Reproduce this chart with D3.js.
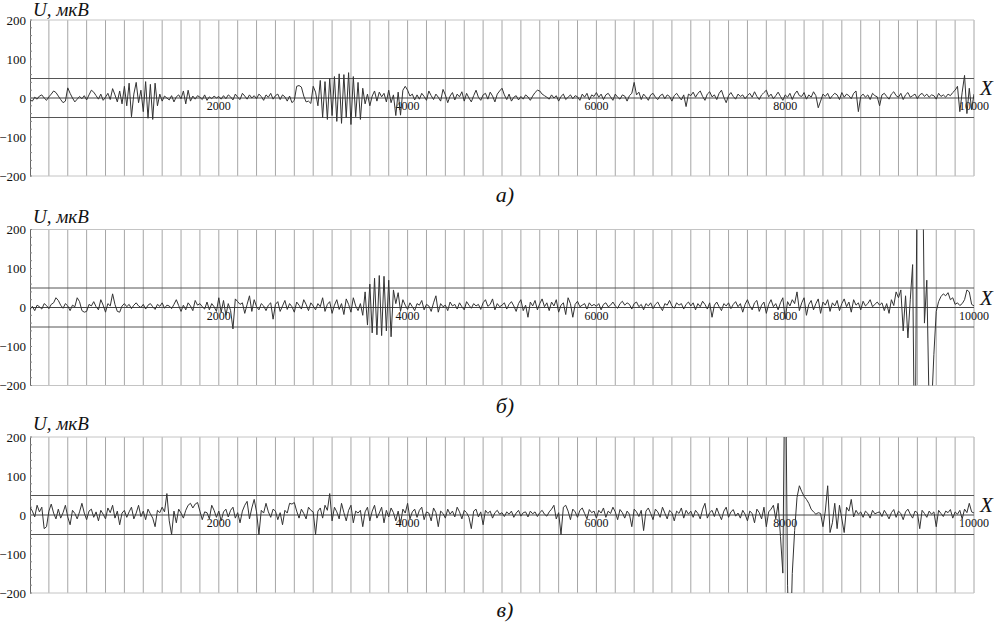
<!DOCTYPE html>
<html>
<head>
<meta charset="utf-8">
<script src="https://cdn.jsdelivr.net/npm/d3@7"></script>
<style>
  body { margin: 0; background: #fff; }
  svg { display: block; }
  text { font-family: "Liberation Serif", "DejaVu Serif", serif; fill: #111; }
</style>
</head>
<body>
<svg id="chart" width="997" height="626"></svg>
<script>
// samples are 25 units apart, 0..10000
const step = 25
const xTicks = [2000, 4000, 6000, 8000, 10000]
const yTicks = [200, 100, 0, -100, -200]
const levels = [50, -50]
const panelLabels = ['а)', 'б)', 'в)']

const signalA = [
  -5, -8, 2, -3, 5, 8, 0, -6, 3, 10, 18, 14, 5, -4, -12, -8, 26, 12, 0, -10,
  -3, 4, -2, 6, -5, 8, 20, 15, 6, -3, 10, -6, 2, 12, -4, 24, 8, -10, 18, -15,
  30, -20, 38, -48, 10, 40, -12, 20, -35, 42, -52, 35, -55, 38, -20, 10, -8, 5, 0, -5,
  6, -10, 3, 8, -2, 18, -15, 20, -8, 5, -3, 6, 2, -4, 8, -6, 3, -2, 5, 0,
  4, -3, 6, -2, 8, 3, -5, 10, 2, -4, 12, 5, -3, 8, 0, 6, -2, 10, 4, -6,
  8, 2, 12, -3, 6, 10, -4, 8, 3, -8, 5, -12, -6, 30, 32, 28, 5, -10, -8, -14,
  30, 15, -20, 45, -50, 42, -55, 50, -45, 55, -60, 62, -65, 60, -50, 65, -68, 55, -48, 40,
  -55, 25, -15, 10, -20, 5, 18, -8, 15, 3, 12, -10, 20, -12, 8, -45, 15, -44, 20, 30,
  20, 5, 10, -5, 8, -3, 12, 4, -6, 18, 6, -4, 10, 2, -8, 22, 8, -12, 5, 14,
  -5, 10, 3, 16, -8, 12, 0, -10, 6, 20, 2, -6, 8, 12, -3, 15, 5, -10, 10, 18,
  25, 8, -4, 10, -8, 2, 6, -5, 4, -3, 8, 3, -6, 5, 14, 20, 18, 10, 6, 2,
  -3, 8, 0, 6, -8, 4, 10, -4, 2, 8, -2, 6, 3, -6, 10, 2, 12, -5, 8, 4,
  14, 2, 10, -4, 8, 12, 3, -6, 10, 2, -3, 8, 5, -8, 6, 12, 40, 8, 15, -4,
  10, 3, -6, 8, 12, 2, -4, 6, 10, -2, 8, 4, -8, 6, 12, 3, -5, 8, -22, 10,
  6, 15, 2, 12, 18, 4, -6, 10, 16, 3, 8, -4, 12, 20, 2, -12, 6, 14, 4, -3,
  10, 4, 8, -2, 6, 12, 2, 16, 4, -4, 8, 14, 20, 3, 10, -2, 6, 15, 4, -6,
  8, 2, 12, -4, 10, 18, 6, 4, 14, -3, 8, 2, 16, 6, -25, -8, 10, 4, 12, -2,
  6, 12, 8, -4, 14, 2, 10, 6, -2, 12, 18, -35, 4, 10, 2, 8, -4, 12, 6, 3,
  -20, 8, 12, 4, -3, 10, 16, 6, 2, 12, -4, 8, 14, 2, 6, 10, -2, 8, 12, 4,
  10, 2, 8, 6, -3, 12, 4, 8, 2, 10, 6, 14, 20, 30, -35, 15, 58, -40, 25, -30,
  10
]

const signalB = [
  -5, 3, -8, 6, 2, -4, 10, 5, -3, 8, 12, 25, 18, 6, -2, 10, 4, -8, 6, 2,
  25, 15, -8, -12, -10, 8, 4, 15, 2, -6, 20, 6, -12, 10, 4, 35, 8, -10, -12, 4,
  10, 2, 8, -3, 6, 12, 4, 0, 8, -4, 6, 10, 2, -5, 8, 3, 12, -2, 6, 4,
  -3, 8, 20, 5, -10, 6, -6, 12, 4, -8, 18, 6, 10, 2, -4, 14, -6, 10, 2, -10,
  25, -12, 18, -20, 10, -8, -55, 22, 15, 8, 12, -15, 8, 30, -10, 20, 2, -6, 10, 4,
  -8, 6, 12, -30, 8, 15, -10, 4, 18, -5, 10, 2, -12, 14, 6, -4, 20, 8, -8, 12,
  4, -6, 10, 2, 25, -10, 8, 15, -15, 6, 20, -5, 10, -18, 22, 8, -12, 25, 4, -8,
  10, -20, 40, -45, 60, -65, 75, -70, 82, -72, 80, -60, 70, -75, 45, 10, 38, -10, 20, 6,
  -5, 12, 2, -8, 10, 6, 18, -6, 8, 4, -10, 12, 30, -12, 10, 2, 6, -8, 14, 4,
  8, -4, 12, 2, -6, 15, 6, -2, 10, 4, 8, -5, 12, 20, 3, 8, 22, -6, 10, 2,
  6, 12, -4, 8, 15, 4, -10, 10, 20, -8, 6, -25, 14, 4, 18, -6, 10, 22, 2, 12,
  -8, 14, 4, 20, -12, 6, 12, -18, 25, 10, -25, 8, 16, 2, 6, 10, -4, 12, 4, 8,
  3, 10, -6, 8, 12, 2, 6, 14, 4, -2, 10, 16, 6, 12, 8, -4, 10, 14, 2, 8,
  -6, 10, 4, 12, -3, 8, 14, 2, -8, 10, 6, 18, 4, -2, 12, 6, 10, -4, 8, 14,
  4, 12, -6, 10, 2, 16, 8, -4, 12, -25, 6, 14, 2, -8, 10, 4, 12, -3, 8, 15,
  2, 10, -12, 8, 20, 4, -6, 12, 18, -10, 6, 14, -15, 8, 20, 2, 10, -6, 12, 25,
  -30, 15, 4, 20, 10, 40, -8, 12, 25, -20, 8, 18, -6, 10, 22, -15, 14, 6, 20, -10,
  12, 4, 18, -8, 10, 22, 2, 14, -12, 20, 6, 12, -6, 16, 4, 10, 20, 2, 8, 14,
  6, 12, -8, 10, -15, 20, 5, 40, 25, 45, -60, 30, -78, 20, 110, -500, 500, 500, 500, -40,
  70, -260, -260, -120, -10, 15, 28, 35, 30, 38, 20, 25, 8, 12, 5, 10, 20, 45, 40, 8,
  4
]

const signalC = [
  20, 10, -5, 25, 8, 20, -35, -30, 10, 28, 5, -10, 15, -8, 6, 25, -5, -25, 12, 4,
  -10, 8, 30, 5, -12, 10, 15, -6, 8, -15, 12, 2, -10, 18, 6, 25, -8, 10, -25, 5,
  12, -6, 8, 20, -10, 5, 25, -4, 10, -12, 15, 3, -8, -30, 12, 6, 20, 8, 55, -15,
  -50, 10, -20, 15, 5, -8, 12, 25, 30, 18, 28, 32, 10, -12, 8, 6, -10, 25, 12, -6,
  10, -15, 8, 15, -5, 12, 20, -8, 6, -20, 10, 25, 35, -10, 18, 40, 8, -50, 12, 5,
  30, 8, -6, 15, 10, -12, 6, -25, 12, 5, 30, 28, 32, 10, -8, 15, 4, -10, 20, 12,
  8, -50, 10, 18, -8, 25, 12, 55, -15, 20, 8, -10, 30, 6, -15, 12, 25, -20, 10, 5,
  12, -30, 8, 20, -15, 10, 25, -8, 5, 20, -20, 12, -5, 18, 6, -15, 10, -22, 15, 5,
  30, -10, 8, 15, -6, 12, 20, -12, 8, 5, -15, 18, 6, -30, 10, 4, -8, 15, 2, 10,
  -5, 20, 8, -10, 12, 6, -6, -35, 10, 15, -5, 8, -25, 12, 4, 10, -8, 6, 12, 2,
  6, -4, 8, 2, 10, -6, 5, 12, -3, 6, 8, -5, 10, 3, 8, -4, 6, 12, 2, -3,
  8, 15, 25, -10, 6, -50, 20, 25, 10, -12, 15, 8, -6, 12, 18, 4, -10, 14, 6, 10,
  -8, 12, 5, 18, -6, 10, 4, 20, 8, -12, 14, 6, -8, 10, 2, -30, 15, 8, -4, 12,
  -40, 10, 18, 4, -12, 15, 8, -6, 20, 5, -10, 12, 6, -15, 10, 4, 18, -8, 12, 2,
  10, -6, 12, 4, -10, 15, 30, -8, 6, 12, -4, 18, 2, -12, 10, 20, -6, 8, 14, -3,
  5, -8, 12, 2, -15, 10, 4, -20, 15, 6, -10, 20, -30, 8, 15, 25, -10, 30, -55, -149,
  500, -180, -380, -150, -40, 45, 75, 60, 48, 40, 30, 15, 8, 2, 6, 4, -30, 10, 75, -45,
  -20, 30, -35, 25, -10, -45, 20, 10, 40, -5, 12, 2, 8, -6, 10, 4, -8, 12, 3, 6,
  8, -4, 12, 2, -10, 6, 14, -6, 10, 4, -12, 8, 15, 2, -8, 10, 6, -35, 12, 4,
  -6, 10, 2, 8, -30, 12, 4, -4, 10, 6, 14, -8, 8, 2, 12, -10, 15, 6, 30, 8,
  5
]

const signals = [signalA, signalB, signalC]

let left = 30
let right = 974
let plotH = 156
let tops = [20, 229.5, 437]
let titleBase = [16, 223, 430]
let labelBase = [202, 413, 617]

const svg = d3.select('#chart')

let x = d3.scaleLinear().domain([0, 10000]).range([left, right])

signals.forEach((signal, k) => {
  let top = tops[k]
  let y = d3.scaleLinear().domain([-200, 200]).range([top + plotH, top])
  const g = svg.append('g').attr('class', 'panel')

  g.append('clipPath')
      .attr('id', 'clip' + k)
    .append('rect')
      .attr('x', left)
      .attr('y', top)
      .attr('width', right - left)
      .attr('height', plotH)

  // vertical grid every 200
  g.append('g')
    .selectAll('line')
    .data(d3.range(200, 10001, 200))
    .join('line')
      .attr('x1', d => x(d)).attr('x2', d => x(d))
      .attr('y1', top).attr('y2', top + plotH)
      .attr('stroke', '#a6a6a6')
      .attr('stroke-width', 1)

  // frame top / bottom
  g.selectAll('line.edge')
    .data([200, -200])
    .join('line')
      .attr('class', 'edge')
      .attr('x1', left).attr('x2', right)
      .attr('y1', d => y(d)).attr('y2', d => y(d))
      .attr('stroke', '#c4c4c4')

  // threshold lines
  g.selectAll('line.level')
    .data(levels)
    .join('line')
      .attr('class', 'level')
      .attr('x1', left).attr('x2', right)
      .attr('y1', d => y(d)).attr('y2', d => y(d))
      .attr('stroke', '#555')

  // zero axis
  g.append('line')
      .attr('x1', left).attr('x2', right)
      .attr('y1', y(0)).attr('y2', y(0))
      .attr('stroke', '#444')

  // x tick labels under zero line
  g.append('g')
    .selectAll('text')
    .data(xTicks)
    .join('text')
      .attr('x', d => x(d))
      .attr('y', y(0) + 12)
      .attr('text-anchor', 'middle')
      .attr('fill', '#222')
      .style('font-size', '12px')
      .text(d => d)

  // y axis
  const yAxis = d3.axisLeft(y)
      .tickValues(yTicks)
      .tickSize(0)
      .tickPadding(4)
      .tickFormat(d => d < 0 ? '\u2212' + Math.abs(d) : d)
  g.append('g')
      .attr('transform', `translate(${left},0)`)
      .call(yAxis)
      .call(a => a.select('.domain').attr('stroke', '#666'))
      .call(a => a.selectAll('text')
          .style('font-family', '"Liberation Serif", serif')
          .style('font-size', '13px')
          .attr('fill', '#111'))

  // minor ticks
  g.append('g')
    .selectAll('line')
    .data(d3.range(-200, 201, 20))
    .join('line')
      .attr('x1', left).attr('x2', left + 2)
      .attr('y1', d => y(d)).attr('y2', d => y(d))
      .attr('stroke', '#888')

  // signal
  let line = d3.line()
      .x((d, i) => x(i * step))
      .y(d => y(d))
  g.append('path')
      .datum(signal)
      .attr('clip-path', `url(#clip${k})`)
      .attr('fill', 'none')
      .attr('stroke', '#333')
      .attr('stroke-width', 1)
      .attr('d', line)

  // texts
  g.append('text')
      .attr('x', 33)
      .attr('y', titleBase[k])
      .style('font-size', '19px')
      .style('font-style', 'italic')
      .text('U, мкВ')

  g.append('text')
      .attr('x', 980)
      .attr('y', y(0) - 3)
      .style('font-size', '21px')
      .style('font-style', 'italic')
      .text('X')

  g.append('text')
      .attr('x', 505)
      .attr('y', labelBase[k])
      .attr('text-anchor', 'middle')
      .style('font-size', '22px')
      .style('font-style', 'italic')
      .text(panelLabels[k])
})
</script>
</body>
</html>
